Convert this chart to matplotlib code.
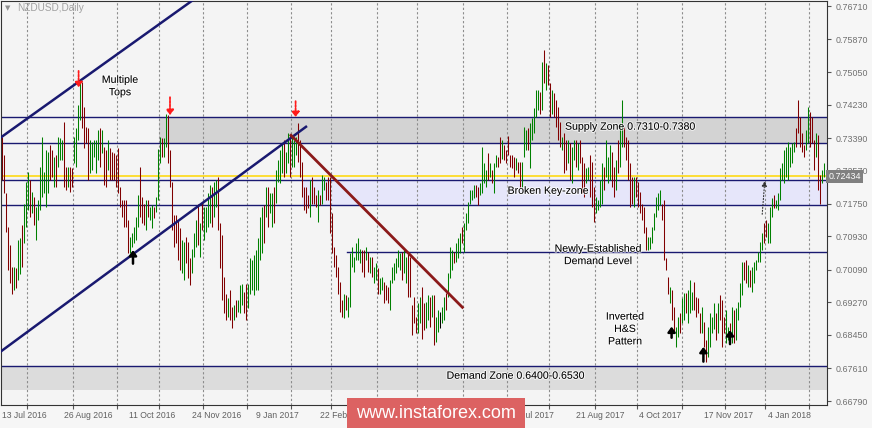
import matplotlib
matplotlib.use("Agg")
import matplotlib.pyplot as plt
import matplotlib.transforms as mtransforms
import matplotlib.patheffects as pe
import numpy as np

plt.rcParams['font.family'] = ['Liberation Sans', 'DejaVu Sans']

# NZDUSD daily bars, in pips (0.0001), from 13 Jul 2016
highs = [
    7343, 7297, 7201, 7117, 7071, 7016, 7016, 7012, 7083, 7088,
    7121, 7175, 7230, 7255, 7234, 7205, 7192, 7167, 7184, 7268,
    7343, 7255, 7309, 7305, 7322, 7309, 7293, 7297, 7343, 7339,
    7334, 7380, 7268, 7268, 7268, 7263, 7343, 7364, 7422, 7477,
    7481, 7418, 7368, 7364, 7334, 7330, 7334, 7334, 7360, 7364,
    7360, 7318, 7309, 7334, 7314, 7305, 7301, 7297, 7314, 7217,
    7184, 7184, 7184, 7134, 7092, 7100, 7117, 7142, 7196, 7268,
    7192, 7175, 7184, 7184, 7167, 7171, 7167, 7192, 7313, 7343,
    7339, 7339, 7401, 7397, 7309, 7230, 7146, 7146, 7134, 7113,
    7083, 7079, 7092, 7079, 7037, 7062, 7100, 7134, 7175, 7125,
    7180, 7167, 7167, 7201, 7221, 7217, 7230, 7234, 7242, 7125,
    7096, 6991, 6949, 6937, 6958, 6916, 6920, 6933, 6933, 6970,
    6974, 6953, 6974, 6974, 7037, 7033, 7046, 7058, 7088, 7142,
    7167, 7171, 7217, 7217, 7201, 7201, 7217, 7259, 7284, 7309,
    7326, 7334, 7305, 7351, 7347, 7343, 7334, 7343, 7376, 7334,
    7280, 7217, 7217, 7196, 7234, 7242, 7217, 7196, 7209, 7196,
    7247, 7242, 7230, 7242, 7242, 7150, 7067, 7046, 7016, 6979,
    6933, 6949, 6945, 6941, 7050, 7067, 7042, 7075, 7088, 7062,
    7058, 7058, 7067, 7054, 7042, 7042, 7016, 7025, 7012, 6987,
    6991, 6979, 6970, 6966, 6983, 7016, 7025, 7037, 7058, 7050,
    7054, 7058, 7042, 7050, 7042, 6920, 6941, 6891, 6924, 6941,
    6966, 6924, 6929, 6945, 6941, 6945, 6945, 6891, 6908, 6903,
    6916, 6941, 6950, 7000, 7067, 7058, 7054, 7075, 7088, 7100,
    7117, 7125, 7150, 7180, 7209, 7209, 7221, 7221, 7217, 7226,
    7318, 7276, 7259, 7301, 7276, 7259, 7276, 7297, 7293, 7343,
    7334, 7322, 7309, 7345, 7297, 7297, 7293, 7289, 7280, 7280,
    7280, 7368, 7360, 7364, 7376, 7389, 7414, 7460, 7460, 7456,
    7531, 7560, 7527, 7523, 7477, 7460, 7452, 7435, 7418, 7381,
    7343, 7351, 7334, 7334, 7326, 7318, 7334, 7334, 7326, 7334,
    7293, 7276, 7263, 7268, 7297, 7280, 7217, 7192, 7184, 7234,
    7276, 7268, 7334, 7293, 7322, 7305, 7268, 7284, 7334, 7376,
    7435, 7368, 7343, 7334, 7276, 7242, 7242, 7242, 7230, 7205,
    7175, 7167, 7117, 7092, 7092, 7117, 7150, 7192, 7201, 7209,
    7175, 7184, 7037, 6991, 6966, 6958, 6916, 6866, 6891, 6899,
    6937, 6950, 6950, 6958, 6983, 6954, 6979, 6941, 6937, 6899,
    6916, 6878, 6832, 6866, 6899, 6891, 6924, 6899, 6924, 6945,
    6933, 6891, 6908, 6866, 6874, 6916, 6908, 6912, 6929, 6975,
    7029, 7029, 7033, 7021, 7008, 7016, 7029, 7033, 7054, 7079,
    7100, 7125, 7134, 7125, 7167, 7188, 7196, 7184, 7201, 7263,
    7276, 7309, 7318, 7330, 7318, 7326, 7330, 7364, 7436, 7393,
    7351, 7322, 7360, 7418, 7406, 7393, 7334, 7351, 7347, 7246,
    7259, 7276,
]
lows = [
    7234, 7201, 7104, 7008, 6975, 6949, 6958, 6962, 6983, 6999,
    7016, 7075, 7117, 7159, 7142, 7150, 7121, 7083, 7134, 7159,
    7192, 7201, 7167, 7201, 7234, 7242, 7217, 7217, 7268, 7284,
    7284, 7217, 7209, 7217, 7205, 7217, 7276, 7268, 7334, 7385,
    7364, 7314, 7326, 7234, 7251, 7259, 7293, 7251, 7284, 7268,
    7301, 7221, 7217, 7259, 7234, 7234, 7234, 7217, 7201, 7167,
    7142, 7117, 7117, 7050, 7050, 7067, 7075, 7083, 7117, 7142,
    7125, 7121, 7108, 7142, 7134, 7113, 7138, 7154, 7184, 7276,
    7293, 7293, 7318, 7276, 7217, 7108, 7067, 7075, 7033, 7008,
    7000, 6983, 7025, 6987, 6970, 7000, 7041, 7067, 7071, 7041,
    7108, 7083, 7104, 7117, 7125, 7117, 7142, 7167, 7108, 7012,
    6933, 6899, 6882, 6891, 6882, 6862, 6882, 6891, 6903, 6899,
    6920, 6899, 6882, 6912, 6949, 6958, 6945, 6958, 6958, 7033,
    7050, 7075, 7142, 7117, 7150, 7117, 7125, 7176, 7230, 7226,
    7251, 7242, 7251, 7276, 7242, 7267, 7267, 7297, 7280, 7242,
    7192, 7159, 7150, 7163, 7142, 7175, 7175, 7167, 7129, 7171,
    7175, 7209, 7184, 7184, 7100, 7050, 7016, 6991, 6949, 6903,
    6891, 6887, 6908, 6891, 6916, 7016, 7004, 7033, 7033, 7025,
    7004, 6991, 7033, 7004, 7000, 6991, 6975, 6983, 6949, 6949,
    6958, 6924, 6933, 6924, 6908, 6975, 6983, 7000, 7016, 7008,
    6983, 7000, 6975, 6941, 6941, 6845, 6874, 6849, 6849, 6874,
    6836, 6857, 6862, 6882, 6866, 6891, 6820, 6828, 6853, 6862,
    6874, 6882, 6908, 6941, 6987, 7008, 7025, 7029, 7037, 7050,
    7075, 7054, 7108, 7125, 7175, 7184, 7188, 7192, 7171, 7196,
    7201, 7226, 7217, 7234, 7242, 7226, 7201, 7268, 7268, 7276,
    7288, 7284, 7276, 7297, 7268, 7263, 7242, 7259, 7251, 7213,
    7217, 7293, 7309, 7309, 7263, 7334, 7351, 7393, 7410, 7401,
    7410, 7477, 7460, 7473, 7393, 7401, 7393, 7368, 7334, 7318,
    7309, 7251, 7259, 7276, 7234, 7226, 7284, 7268, 7259, 7276,
    7201, 7192, 7226, 7234, 7192, 7167, 7129, 7150, 7159, 7167,
    7175, 7209, 7242, 7226, 7234, 7217, 7192, 7209, 7251, 7268,
    7318, 7318, 7284, 7234, 7167, 7175, 7167, 7192, 7167, 7150,
    7134, 7100, 7058, 7058, 7062, 7075, 7108, 7142, 7159, 7171,
    7134, 7033, 7008, 6949, 6924, 6882, 6849, 6816, 6841, 6849,
    6874, 6883, 6899, 6874, 6899, 6908, 6908, 6891, 6899, 6849,
    6849, 6816, 6778, 6790, 6816, 6849, 6861, 6832, 6849, 6882,
    6816, 6849, 6824, 6832, 6824, 6824, 6824, 6832, 6882, 6916,
    6945, 6983, 6975, 6966, 6966, 6954, 6975, 7008, 7029, 7029,
    7058, 7075, 7092, 7075, 7075, 7142, 7163, 7163, 7159, 7184,
    7234, 7226, 7242, 7234, 7267, 7276, 7305, 7318, 7351, 7318,
    7305, 7293, 7309, 7326, 7318, 7326, 7259, 7293, 7209, 7175,
    7226, 7242,
]
# G = up bar, R = down bar, K = doji
colours = (
    "RRRRRRGRGG" "RGGGRGRGGG" "GGGGRRGRGG" "GRRGRRGGGG" "RRRRGGGGGR"
    "GRRGRRRRRR" "RRRRGGGGGR" "RRGRGGRGGG" "RGGRRRRRRR" "GGRRRGGGRG"
    "RGGGGRGGRR" "RRRGRRGRGG" "GRRGGGGGGG" "GRGRGGRGGG" "GRGGRGGGRR"
    "RRRRGRRRGR" "GGRRRRRRRR" "RGRGGGGGGG" "RRGRGRGGRG" "GRRRGGGGGG"
    "RGGRRRRRGG" "RRGGRGRGGK" "GGRGGGRGGG" "RGGGGGGRRG" "GGGRGRGGRR"
    "GRRRRRRGRR" "GGGRGGGGGR" "GRGRRGRRRR" "GRRGRGGRGR" "RRGGRRRGGG"
    "GRGGGRRGRG" "GRRRRRGRRR" "RRRGGGGGGG" "RRRRGRRGGR" "GGRGGGRRRR"
    "GRRGGGGRGR" "RRGGRGRGGG" "GRRGRGGGGG" "GRRGGGRGGG" "GGGGGGGRRR"
    "RRGGRRRGRR" "GG"
)

price_ticks = [0.76710, 0.75870, 0.75050, 0.74230, 0.73390, 0.72570, 0.71750,
               0.70930, 0.70090, 0.69270, 0.68450, 0.67610, 0.66790]
# labels under the watermark are not visible in the reference, so left out
date_labels = ["13 Jul 2016", "26 Aug 2016", "11 Oct 2016", "24 Nov 2016",
               "9 Jan 2017", "22 Feb 2017", "6 Jul 2017", "21 Aug 2017",
               "4 Oct 2017", "17 Nov 2017", "4 Jan 2018"]
date_pos = [0, 31, 63.5, 95, 127, 159, 256, 287, 318.5, 351, 383]
month_pos = [12.5, 35.5, 57.5, 78.5, 100.5, 122.5, 144.5, 164.5, 187.5, 207.5,
             230.5, 252.5, 273.5, 296.5, 317.5, 340, 361.5, 381.5, 403.5]

supply_zone = (0.73262, 0.73915)
key_zone = (0.71712, 0.72333)
demand_level = 0.70525
demand_zone = (0.67065, 0.67670)
last_price = 0.72434

# drawn objects (bar index, price)
channel_top = [(-1, 0.73395), (95.5, 0.7686)]
channel_bottom = [(-1, 0.6802), (152.5, 0.73696)]
down_trend = [(144, 0.73488), (230.7, 0.69119)]
red_arrows = [(38.3, 0.7508, 0.7467), (84, 0.7442, 0.7397), (146.8, 0.7432, 0.7392)]
black_arrows = [(65.5, 0.7024, 0.7058), (334.8, 0.6838, 0.6866),
                (350.7, 0.6778, 0.6815), (364, 0.6822, 0.6857)]

W, H = 872, 428
fig = plt.figure(figsize=(W / 100, H / 100), dpi=100)
fig.patch.set_facecolor('#f6f6f6')
ax = fig.add_axes([1 / W, 23 / H, 826 / W, 404 / H])
ax.set_facecolor('#f4f4f4')

n = len(highs)
idx = np.arange(n)
hi = np.array(highs) / 10000
lo = np.array(lows) / 10000
cmap = {'G': '#008000', 'R': '#800000', 'K': '#000000'}
cols = [cmap[c] for c in colours[:n]]

xmin, xmax = -0.5, 412.5
ax.set_xlim(xmin, xmax)
ax.set_ylim(0.66691, 0.76836)

# zones
ax.fill_between([78.5, xmax], supply_zone[0], supply_zone[1], color='#d3d3d3', lw=0, zorder=0.2)
ax.fill_between([150, xmax], key_zone[0], key_zone[1], color='#e6e6fa', lw=0, zorder=0.2)
ax.fill_between([xmin, xmax], demand_zone[0], demand_zone[1], color='#dcdcdc', lw=0, zorder=0.2)
navy = '#191970'
for p in list(supply_zone) + list(key_zone) + [demand_zone[1]]:
    ax.axhline(p, color=navy, lw=1, zorder=1.5)
ax.plot([172.5, xmax], [demand_level, demand_level], color=navy, lw=1, zorder=1.5)
ax.axhline(last_price, color='#ffd700', lw=1.1, zorder=1.6)

# bars
ax.vlines(idx, lo, hi, colors=cols, lw=0.75, zorder=2)

# trend lines
for seg, c, w in [(channel_top, navy, 1.8), (channel_bottom, navy, 1.8), (down_trend, '#8b1a1a', 2.0)]:
    ax.plot([seg[0][0], seg[1][0]], [seg[0][1], seg[1][1]], color=c, lw=w, zorder=3,
            solid_capstyle='butt')

for x, top, bot in red_arrows:
    ax.annotate('', xy=(x, bot), xytext=(x, top), zorder=4,
                arrowprops=dict(arrowstyle='-|>,head_width=0.22,head_length=0.3',
                                color='#ff1a1a', lw=1.3, linestyle=(0, (1.2, 0.8)),
                                shrinkA=0, shrinkB=0))
for x, bot, top in black_arrows:
    ax.annotate('', xy=(x, top), xytext=(x, bot), zorder=4,
                arrowprops=dict(arrowstyle='-|>,head_width=0.22,head_length=0.3',
                                color='#000000', lw=1.8, shrinkA=0, shrinkB=0))
ax.annotate('', xy=(381.5, 0.7239), xytext=(380, 0.71411), zorder=4,
            arrowprops=dict(arrowstyle='-|>,head_width=0.15,head_length=0.3',
                            color='#333333', lw=0.8, linestyle=':'))

# texts
halo = [pe.withStroke(linewidth=1.5, foreground='#ffffff', alpha=0.7)]
tkw = dict(fontsize=7.6, color='#000000', zorder=5, path_effects=halo)
ax.text(59, 0.7470, 'Multiple\nTops', ha='center', va='center', linespacing=1.3, **tkw)
ax.text(281.5, 0.7368, 'Supply Zone 0.7310-0.7380', ha='left', va='center', **tkw)
ax.text(252.8, 0.7207, 'Broken Key-zone', ha='left', va='center', **tkw)
ax.text(298, 0.7046, 'Newly-Established\nDemand Level', ha='center', va='center', linespacing=1.3, **tkw)
ax.text(311.5, 0.6860, 'Inverted\nH&S\nPattern', ha='center', va='center', linespacing=1.3, **tkw)
ax.text(222.3, 0.67426, 'Demand Zone 0.6400-0.6530', ha='left', va='center', **tkw)
ax.text(0.008, 0.983, '\u25BC', transform=ax.transAxes, fontsize=5, color='#909090',
        family=['DejaVu Sans'], va='center', ha='center')
ax.text(0.02, 0.983, 'NZDUSD,Daily', transform=ax.transAxes, fontsize=7.2,
        color='#a0a0a0', va='center', ha='left')

# axes
ax.set_axisbelow(True)
ax.set_xticks(month_pos)
ax.set_xticklabels([''] * len(month_pos))
ax.set_xticks(date_pos, minor=True)
ax.set_xticklabels(date_labels, minor=True)
for t in ax.get_xticklabels(minor=True):
    t.set_ha('left')
ax.tick_params(axis='x', which='major', length=3, direction='out', color='#555555')
ax.tick_params(axis='x', which='minor', length=0, pad=4, labelsize=6.2, labelcolor='#606060')
ax.grid(axis='x', which='major', color='#8c8c8c', lw=0.8, linestyle=(0, (2, 2)))
ax.yaxis.tick_right()
ax.set_yticks(price_ticks)
ax.set_yticklabels([f'{p:.5f}' for p in price_ticks])
ax.tick_params(axis='y', length=3, direction='out', color='#555555', pad=3,
               labelsize=6.4, labelcolor='#707070')
for s in ax.spines.values():
    s.set_color('#333333')
    s.set_linewidth(0.8)

trans = mtransforms.blended_transform_factory(ax.transAxes, ax.transData)
ax.text(1.002, last_price, f'{last_price:.5f}', transform=trans, ha='left', va='center',
        fontsize=6.4, color='#ffffff', zorder=6,
        bbox=dict(boxstyle='square,pad=0.25', fc='#808080', ec='none'))

# watermark
wax = fig.add_axes([347 / W, 0, 178 / W, 30 / H])
wax.set_facecolor('#dc6262')
wax.set_xticks([])
wax.set_yticks([])
for s in wax.spines.values():
    s.set_visible(False)
wax.text(0.5, 0.5, 'www.instaforex.com', color='#ffffff', fontsize=13,
         ha='center', va='center', transform=wax.transAxes)

fig.savefig('out.png', dpi=100, facecolor=fig.get_facecolor())
